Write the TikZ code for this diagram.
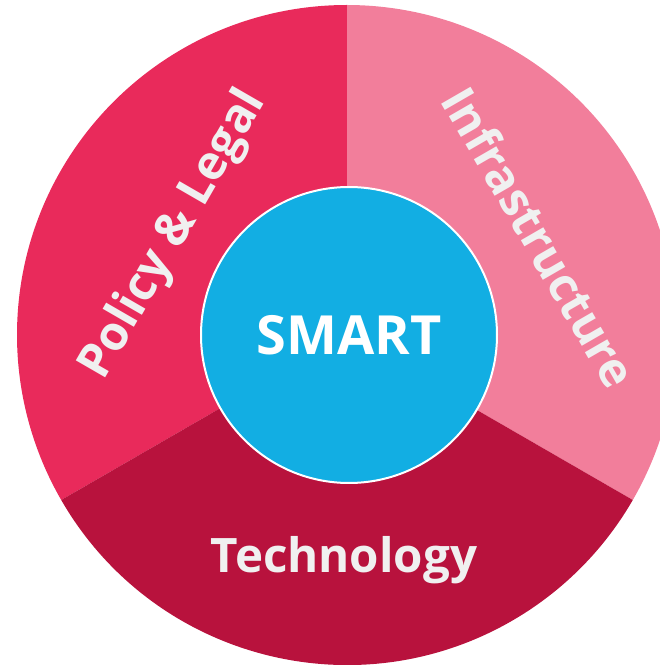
\documentclass[tikz,border=0pt]{standalone}
\usepackage{fontspec}
\setmainfont{Open Sans}
\usetikzlibrary{calc}
\definecolor{polcol}{HTML}{E92A5B}
\definecolor{infcol}{HTML}{F27E9B}
\definecolor{teccol}{HTML}{B8123D}
\definecolor{smartcol}{HTML}{12AEE3}
\definecolor{labcol}{HTML}{F0F0F0}
\tikzset{
  seglabel/.style={text=labcol,font=\fontsize{47.5}{47.5}\selectfont\bfseries,inner sep=0pt},
  hub/.style={circle,fill=smartcol,draw=white,line width=2pt,minimum size=296pt,inner sep=0pt,text=white,font=\fontsize{54}{54}\selectfont\bfseries}
}
\begin{document}
\begin{tikzpicture}[x=1pt,y=1pt]
\useasboundingbox (0,0) rectangle (660,665);
\clip (0,0) rectangle (660,665);
\coordinate (c) at (347,330);
\fill[polcol] (c) -- ++(90:330) arc[start angle=90,end angle=210,radius=330] -- cycle;
\fill[infcol] (c) -- ++(-30:330) arc[start angle=-30,end angle=90,radius=330] -- cycle;
\fill[teccol] (c) -- ++(210:330) arc[start angle=210,end angle=330,radius=330] -- cycle;
\node[hub] (smart) at (349,330) {SMART};
\node[seglabel,rotate=60] (pol) at ($(c)+(150:200)$) {Policy \& Legal};
\node[seglabel,rotate=-60] (inf) at ($(c)+(27:216)$) {Infrastructure};
\node[seglabel] (tec) at (344,105) {Technology};
\end{tikzpicture}
\end{document}
